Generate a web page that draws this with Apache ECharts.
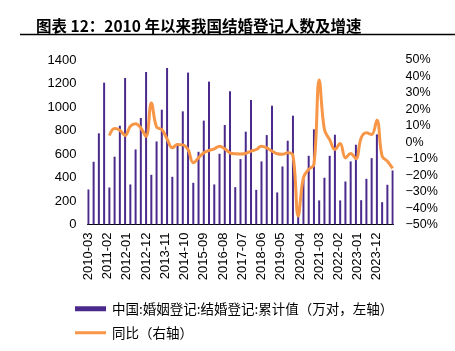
<!DOCTYPE html>
<html><head><meta charset="utf-8">
<script src="https://cdn.jsdelivr.net/npm/echarts@6/dist/echarts.min.js"></script>
<style>html,body{margin:0;padding:0;background:#fff}#c{width:455px;height:351px}</style>
</head><body><div id="c"></div>
<script>
// Quarter-end months (data points)
const quarterLabels = [
  '2010-03','2010-06','2010-09','2010-12',
  '2011-03','2011-06','2011-09','2011-12',
  '2012-03','2012-06','2012-09','2012-12',
  '2013-03','2013-06','2013-09','2013-12',
  '2014-03','2014-06','2014-09','2014-12',
  '2015-03','2015-06','2015-09','2015-12',
  '2016-03','2016-06','2016-09','2016-12',
  '2017-03','2017-06','2017-09','2017-12',
  '2018-03','2018-06','2018-09','2018-12',
  '2019-03','2019-06','2019-09','2019-12',
  '2020-03','2020-06','2020-09','2020-12',
  '2021-03','2021-06','2021-09','2021-12',
  '2022-03','2022-06','2022-09','2022-12',
  '2023-03','2023-06','2023-09','2023-12',
  '2024-03','2024-06','2024-09'
];
// 中国:婚姻登记:结婚登记:累计值 (万对)
const marriageCum = [
  298, 534, 776, 1207,
  315, 577, 841, 1247,
  341, 639, 906, 1298,
  423, 707, 977, 1332,
  406, 690, 963, 1293,
  355, 619, 884, 1216,
  341, 602, 847, 1134,
  318, 557, 790, 1060,
  295, 537, 761, 1011,
  273, 494, 713, 926,
  150, 388, 585, 810,
  205, 398, 585, 764,
  205, 366, 537, 679,
  207, 389, 565, 767,
  190, 338, 460
];
// 同比 (%)
const yoyPct = [
  null, null, null, null,
  4.1, 8.3, 7.3, 4.1,
  9.7, 11.3, 8.7, 3.6,
  23.8, 9.3, 7.7, 2.0,
  -3.4, -1.4, -1.6, -4.4,
  -12.5, -9.5, -6.4, -5.0,
  -4.0, -2.4, -4.0, -6.4,
  -7.0, -7.1, -6.8, -5.4,
  -4.4, -2.4, -3.4, -5.4,
  -7.0, -7.3, -6.4, -8.0,
  -44.8, -21.5, -16.5, -13.5,
  37.9, 7.7, 1.6, -4.4,
  -0.8, -9.5, -6.8, -10.0,
  2.6, 5.7, 4.7, 13.3,
  -8.5, -11.5, -15.9
];
const barName = '中国:婚姻登记:结婚登记:累计值（万对，左轴）';
const lineName = '同比（右轴）';
const titleText = '图表 12：2010 年以来我国结婚登记人数及增速';

// monthly category axis (date-style axis)
const months = [];
for (let y = 2010; y <= 2024; y++) {
  for (let m = 1; m <= 12; m++) {
    if (y === 2010 && m < 3) continue;
    if (y === 2024 && m > 9) break;
    months.push(y + '-' + String(m).padStart(2, '0'));
  }
}
const barData = months.map(mo => { const i = quarterLabels.indexOf(mo); return i < 0 ? null : marriageCum[i]; });
const lineData = months.map(mo => { const i = quarterLabels.indexOf(mo); return i < 0 ? null : yoyPct[i]; });

const chart = echarts.init(document.getElementById('c'));
const cjk = '"Noto Sans CJK SC", sans-serif';
const latin = '"Liberation Sans", Arial, sans-serif';
chart.setOption({
  animation: false,
  title: {
    text: titleText, left: 31, top: 13,
    textStyle: { fontSize: 15.5, fontWeight: 'bold', color: '#000', fontFamily: cjk }
  },
  graphic: [{
    type: 'line', shape: { x1: 20, y1: 34.5, x2: 455, y2: 34.5 },
    style: { stroke: '#000', lineWidth: 1.3 }
  }],
  grid: { left: 87.5, right: 61.5, top: 60, bottom: 126.5 },
  legend: [
    {
      data: [{ name: barName, icon: 'rect' }], left: 70, top: 297, orient: 'vertical',
      itemWidth: 31, itemHeight: 5, itemGap: 0,
      textStyle: { fontSize: 13.5, color: '#000', fontFamily: cjk, padding: [0, 0, 0, 1] }
    },
    {
      data: [{ name: lineName, icon: 'rect' }], left: 70, top: 321, orient: 'vertical',
      itemWidth: 31, itemHeight: 3, itemGap: 0,
      textStyle: { fontSize: 13.5, color: '#000', fontFamily: cjk, padding: [0, 0, 0, 1] }
    }
  ],
  xAxis: {
    type: 'category', data: months, boundaryGap: true,
    axisLine: { lineStyle: { color: '#000', width: 1 } },
    axisTick: { interval: 10, length: 3, lineStyle: { color: '#000' } },
    axisLabel: { interval: 10, rotate: 90, fontSize: 13, color: '#000', margin: 8, fontFamily: latin }
  },
  yAxis: [
    {
      type: 'value', min: 0, max: 1400, interval: 200,
      splitLine: { show: false }, axisLine: { show: false }, axisTick: { show: false },
      axisLabel: { fontSize: 13, color: '#000', margin: 11, fontFamily: latin, formatter: v => String(v) }
    },
    {
      type: 'value', min: -50, max: 50, interval: 10, position: 'right',
      splitLine: { show: false }, axisLine: { show: false }, axisTick: { show: false },
      axisLabel: {
        fontSize: 12.5, color: '#000', margin: 12, fontFamily: latin,
        formatter: v => (v < 0 ? '\u2212' + (-v) : v) + '%'
      }
    }
  ],
  series: [
    {
      name: barName, type: 'bar', data: barData, barWidth: 2,
      itemStyle: { color: '#4B2A8C' }
    },
    {
      name: lineName, type: 'line', yAxisIndex: 1, data: lineData,
      connectNulls: true, smooth: 0.4, symbol: 'none',
      lineStyle: { color: '#F79646', width: 3 }, itemStyle: { color: '#F79646' }
    }
  ]
});
</script>
</body></html>
